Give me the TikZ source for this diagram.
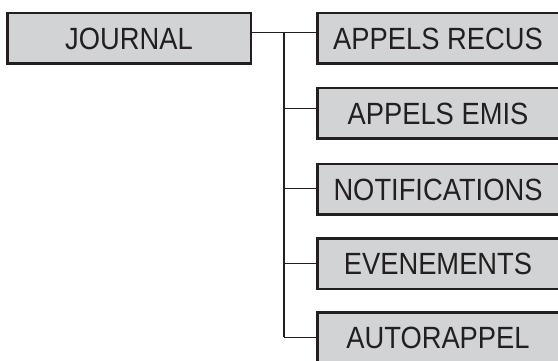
\documentclass[tikz,border=0pt]{standalone}
\usepackage{fontspec}
\setmainfont{Liberation Sans}[FakeStretch=0.89]
\definecolor{boxfill}{HTML}{D1D3D4}
\definecolor{ink}{HTML}{231F20}
\begin{document}
\begin{tikzpicture}[x=1pt,y=-1pt,
  menubox/.style={draw=ink, fill=boxfill, line width=2.5pt, inner sep=0pt,
    minimum width=241.5pt, minimum height=50.5pt, text=ink,
    font=\fontsize{30.7}{32}\selectfont},
  link/.style={draw=ink, line width=1.3pt}]
\useasboundingbox (0,0) rectangle (558,361);
\clip (0,0) rectangle (558,361);
\node[menubox, minimum width=243.5pt] (journal) at (129,38.5) {JOURNAL};
\node[menubox] (recus) at (438,38.5) {APPELS RECUS};
\node[menubox] (emis) at (438,113.5) {APPELS EMIS};
\node[menubox] (notif) at (438,189.5) {NOTIFICATIONS};
\node[menubox] (even) at (438,263.5) {EVENEMENTS};
\node[menubox] (auto) at (438,337.5) {AUTORAPPEL};
\coordinate (j1) at (284,32.3);
\coordinate (j2) at (284,108.3);
\coordinate (j3) at (284,188.7);
\coordinate (j4) at (284,263.7);
\coordinate (j5) at (284,337.3);
\draw[link] (journal.east |- j1) -- (j1) -- (recus.west |- j1);
\draw[link] (j1) -- (j5);
\draw[link] (j2) -- (emis.west |- j2);
\draw[link] (j3) -- (notif.west |- j3);
\draw[link] (j4) -- (even.west |- j4);
\draw[link] (j5) -- (auto.west |- j5);
\end{tikzpicture}
\end{document}
